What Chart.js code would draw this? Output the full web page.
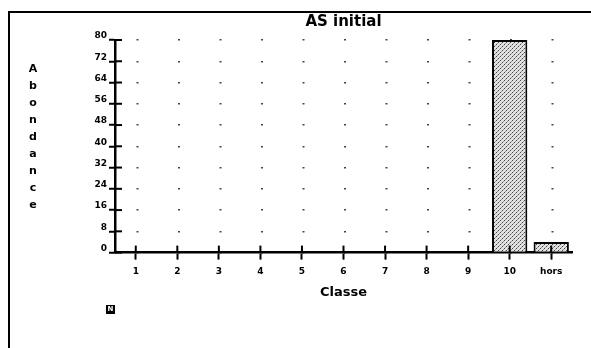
<!DOCTYPE html>
<html>
<head>
<meta charset="utf-8">
<script src="https://cdn.jsdelivr.net/npm/chart.js@4"></script>
<style>
  html, body { margin: 0; padding: 0; background: #fff; }
  #wrap { width: 591px; height: 348px; }
</style>
</head>
<body>
<div id="wrap"><canvas id="myChart" width="591" height="348"></canvas></div>
<script>
// data
const classes = ['1', '2', '3', '4', '5', '6', '7', '8', '9', '10', 'hors'];
const abondance = [0, 0, 0, 0, 0, 0, 0, 0, 0, 80, 4];
const yMax = 80;
const yStep = 8;
const yTitle = 'Abondance';

// stippled fill like the old print
function stipple() {
  const c = document.createElement('canvas');
  c.width = 4; c.height = 4;
  const g = c.getContext('2d');
  g.fillStyle = '#e2e2e2';
  g.fillRect(0, 0, 4, 4);
  g.fillStyle = '#444';
  g.fillRect(0, 0, 1, 1);
  g.fillRect(2, 2, 1, 1);
  g.fillStyle = '#999';
  g.fillRect(3, 1, 1, 1);
  g.fillRect(1, 3, 1, 1);
  return g.createPattern(c, 'repeat');
}

const extras = {
  id: 'extras',
  beforeDraw(chart) {
    const ctx = chart.ctx;
    ctx.save();
    ctx.fillStyle = '#fff';
    ctx.fillRect(0, 0, chart.width, chart.height);
    ctx.strokeStyle = '#000';
    ctx.lineWidth = 2;
    ctx.beginPath();
    ctx.moveTo(9, 348); ctx.lineTo(9, 12); ctx.lineTo(591, 12);
    ctx.stroke();
    ctx.restore();
  },
  afterDraw(chart) {
    const ctx = chart.ctx;
    const x = chart.scales.x, y = chart.scales.y;
    ctx.save();
    ctx.strokeStyle = '#000';
    ctx.lineWidth = 2;
    // inner half of the tick crosses
    y.ticks.forEach(t => {
      const py = y.getPixelForValue(t.value);
      ctx.beginPath(); ctx.moveTo(x.left, py); ctx.lineTo(x.left + 7, py); ctx.stroke();
    });
    classes.forEach((c, i) => {
      const px = x.getPixelForValue(i);
      ctx.beginPath(); ctx.moveTo(px, y.bottom - 7); ctx.lineTo(px, y.bottom); ctx.stroke();
    });
    // stacked letters of the y title
    ctx.fillStyle = '#000';
    ctx.font = 'bold 11px "DejaVu Sans"';
    ctx.textAlign = 'center';
    ctx.textBaseline = 'middle';
    yTitle.split('').forEach((ch, i) => ctx.fillText(ch, 33, 69 + i * 17));
    // little N box
    ctx.fillRect(106, 305, 9, 9);
    ctx.fillStyle = '#fff';
    ctx.font = 'bold 7px "DejaVu Sans"';
    ctx.fillText('N', 110.5, 309.5);
    ctx.restore();
  }
};

const ctx = document.getElementById('myChart').getContext('2d');
new Chart(ctx, {
  type: 'bar',
  data: {
    labels: classes,
    datasets: [{
      data: abondance,
      backgroundColor: stipple(),
      borderColor: '#000',
      borderWidth: 2,
      borderSkipped: 'bottom',
      barPercentage: 0.85,
      categoryPercentage: 1
    }]
  },
  options: {
    responsive: false,
    animation: false,
    layout: { padding: { left: 59, right: 19, top: 0, bottom: 48 } },
    plugins: {
      legend: { display: false },
      tooltip: { enabled: false },
      title: {
        display: true,
        text: 'AS initial',
        fullSize: false,
        color: '#000',
        font: { family: 'DejaVu Sans', size: 15, weight: 'bold', lineHeight: 1.2 },
        padding: { top: 13, bottom: 9 }
      }
    },
    scales: {
      x: {
        offset: true,
        grid: { offset: false, drawOnChartArea: false, tickLength: 7, tickColor: '#000', tickWidth: 2 },
        border: { color: '#000', width: 2.5 },
        ticks: { color: '#000', padding: 7, maxRotation: 0, font: { family: 'DejaVu Sans', size: 9, weight: 'bold' } },
        title: {
          display: true, text: 'Classe', color: '#000',
          padding: 0,
          font: { family: 'DejaVu Sans', size: 13, weight: 'bold', lineHeight: 1.2 }
        }
      },
      y: {
        min: 0,
        max: yMax,
        afterFit(scale) { scale.width = 56; },
        grid: { color: '#444', lineWidth: 1.5, tickLength: 6, tickColor: '#000', tickWidth: 2, tickBorderDash: [] },
        border: { color: '#000', width: 2.5, dash: [2, 39.5], dashOffset: 21.5 },
        ticks: {
          stepSize: yStep, color: '#000', padding: 2, labelOffset: -4,
          font: { family: 'DejaVu Sans', size: 9, weight: 'bold' }
        }
      }
    }
  },
  plugins: [extras]
});
</script>
</body>
</html>
